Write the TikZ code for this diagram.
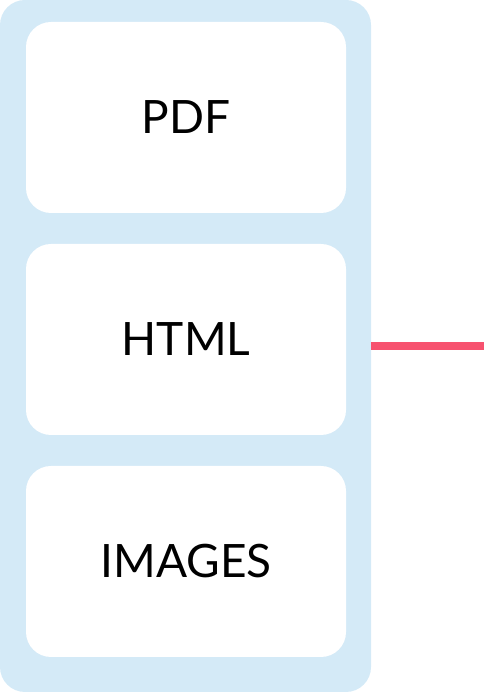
\documentclass[tikz,border=0pt]{standalone}
\usepackage{fontspec}
\setmainfont{Lato}
\definecolor{panelblue}{HTML}{D4EAF7}
\definecolor{linkpink}{HTML}{F7526F}

\begin{document}
\begin{tikzpicture}[x=1pt,y=1pt]
\tikzset{panel/.style={fill=panelblue,rounded corners=25pt,minimum width=371pt,minimum height=692pt,inner sep=0pt},
format/.style={fill=white,rounded corners=25pt,minimum width=320pt,minimum height=191pt,inner sep=0pt,font=\fontsize{46}{52}\selectfont}}
\useasboundingbox (0,0) rectangle (484,692);

\node[panel] (outer) at (185.5,346) {};
\node[format] (pdf) at (186,574.5) {PDF};
\node[format] (html) at (186,352.5) {HTML};
\node[format] (images) at (186,130.5) {IMAGES};

\coordinate (out) at (484,346);
\draw[linkpink,line width=8pt] (outer.east) -- (out);

\end{tikzpicture}
\end{document}
